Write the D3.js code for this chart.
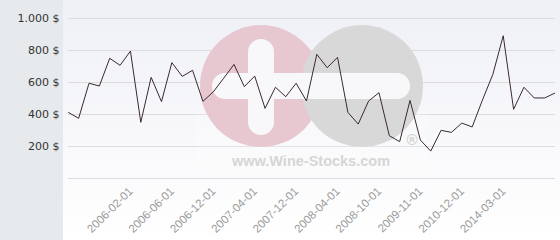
<!DOCTYPE html>
<html>
<head>
<meta charset="utf-8">
<script src="https://cdn.jsdelivr.net/npm/d3@7"></script>
<style>
  html, body { margin: 0; padding: 0; background: #fff; }
  svg { display: block; }
</style>
</head>
<body>
<div id="chart"></div>
<script>
// monthly prices (USD)
const prices = [
  412, 375, 594, 577, 750, 706, 795, 350, 631, 479,
  723, 637, 675, 481, 540, 625, 712, 573, 639, 437,
  569, 510, 594, 483, 775, 691, 756, 412, 339, 483,
  535, 266, 229, 487, 239, 170, 300, 287, 345, 321,
  490, 650, 891, 431, 569, 502, 502, 533
];
// labelled categories on the x axis
const tickIndex = [6, 10, 14, 18, 22, 26, 30, 34, 38, 42];
const tickLabels = [
  "2006-02-01", "2006-06-01", "2006-12-01", "2007-04-01", "2007-12-01",
  "2008-04-01", "2008-10-01", "2009-11-01", "2010-12-01", "2014-03-01"
];
const yTicks = [200, 400, 600, 800, 1000];

const width = 560, height = 240;
const margin = {top: 18.3, right: 5, bottom: 61.7, left: 68.3};

const svg = d3.select("#chart").append("svg")
  .attr("width", width)
  .attr("height", height);

const defs = svg.append("defs");
const grad = defs.append("linearGradient")
  .attr("id", "bg").attr("x1", 0).attr("y1", 0).attr("x2", 0).attr("y2", 1);
grad.append("stop").attr("offset", "0%").attr("stop-color", "#eff0f6");
grad.append("stop").attr("offset", "100%").attr("stop-color", "#ffffff");

// backgrounds
svg.append("rect").attr("x", 63).attr("y", 0)
  .attr("width", width - 63).attr("height", height).attr("fill", "url(#bg)");
svg.append("rect").attr("x", 0).attr("y", 0)
  .attr("width", 63).attr("height", height).attr("fill", "#e7eaed");

const x = d3.scalePoint()
  .domain(d3.range(prices.length))
  .range([margin.left, width - margin.right]);
const y = d3.scaleLinear()
  .domain([0, 1000])
  .range([height - margin.bottom, margin.top]);

// gridlines
svg.append("g").attr("class", "grid")
  .selectAll("line")
  .data([0].concat(yTicks))
  .join("line")
  .attr("x1", margin.left - 0.3).attr("x2", width - margin.right)
  .attr("y1", d => Math.round(y(d)) + 0.5).attr("y2", d => Math.round(y(d)) + 0.5)
  .attr("stroke", "#dcdcdf").attr("stroke-width", 1);

// watermark
const wm = svg.append("g").attr("class", "watermark");
wm.append("rect").attr("x", 197).attr("y", 110).attr("width", 230).attr("height", 68)
  .attr("fill", "#ffffff").attr("opacity", 0.2);
wm.append("circle").attr("cx", 261).attr("cy", 86).attr("r", 61).attr("fill", "#e8c8d0");
wm.append("circle").attr("cx", 362).attr("cy", 86).attr("r", 61).attr("fill", "#d8d8d8");
wm.append("rect").attr("x", 248).attr("y", 39).attr("width", 26).attr("height", 96)
  .attr("rx", 13).attr("fill", "#f8f8fa");
wm.append("rect").attr("x", 212).attr("y", 73).attr("width", 198).attr("height", 26)
  .attr("rx", 13).attr("fill", "#f8f8fa");
wm.append("text").attr("x", 311).attr("y", 166)
  .attr("text-anchor", "middle")
  .attr("font-family", "Liberation Sans, Arial, sans-serif")
  .attr("font-weight", "bold").attr("font-size", 14.5)
  .attr("fill", "#d6d6d6")
  .text("www.Wine-Stocks.com");
wm.append("text").attr("x", 412).attr("y", 145)
  .attr("text-anchor", "middle")
  .attr("font-family", "Liberation Sans, Arial, sans-serif")
  .attr("font-weight", "bold").attr("font-size", 15)
  .attr("fill", "#d2d2d2")
  .text("®");

// y labels
svg.append("g").attr("class", "yLabels")
  .selectAll("text")
  .data(yTicks)
  .join("text")
  .attr("x", 59.5)
  .attr("y", d => y(d))
  .attr("dy", "0.35em")
  .attr("text-anchor", "end")
  .attr("font-family", "DejaVu Sans, sans-serif")
  .attr("font-size", 11)
  .attr("fill", "#333")
  .text(d => d3.format(",")(d).replace(",", ".") + " $");

// x labels
svg.append("g").attr("class", "xLabels")
  .selectAll("text")
  .data(tickIndex)
  .join("text")
  .attr("text-anchor", "end")
  .attr("transform", d => "translate(" + (x(d) + 3) + "," + 192 + ") rotate(-45)")
  .attr("font-family", "Liberation Sans, Arial, sans-serif")
  .attr("font-size", 11.5)
  .attr("fill", "#9a9a9a")
  .text((d, i) => tickLabels[i]);

// price line
const line = d3.line()
  .x((d, i) => x(i))
  .y(d => y(d));

svg.append("path")
  .datum(prices)
  .attr("fill", "none")
  .attr("stroke", "#3b2832")
  .attr("stroke-width", 1)
  .attr("stroke-linejoin", "miter")
  .attr("d", line);
</script>
</body>
</html>
